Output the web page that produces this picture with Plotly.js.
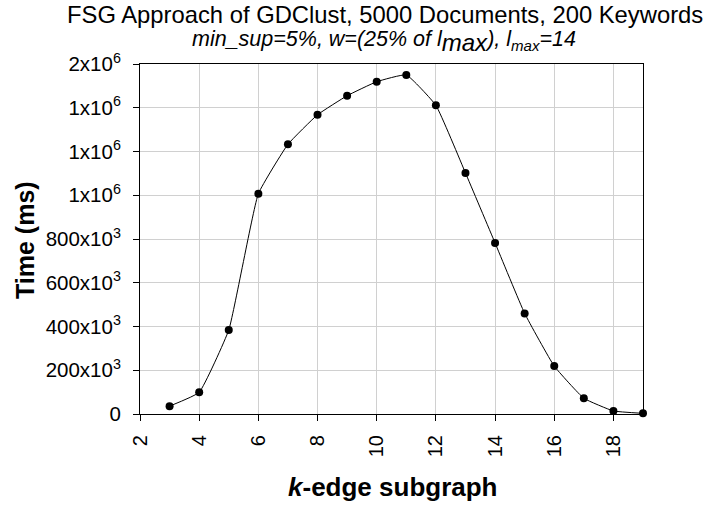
<!DOCTYPE html>
<html>
<head>
<meta charset="utf-8">
<script src="https://cdn.plot.ly/plotly-3.0.1.min.js"></script>
<style>html,body{margin:0;padding:0;background:#fff;}#chart{width:710px;height:508px;}</style>
</head>
<body>
<div id="chart"></div>
<script>
const kEdges = [3,4,5,6,7,8,9,10,11,12,13,14,15,16,17,18,19];
const timeMs = [36000,99000,384000,1007000,1233000,1368000,1455000,1519000,1550000,1411000,1102000,782000,460000,219000,72000,14000,3000];
const yTickVals = [0,200000,400000,600000,800000,1000000,1200000,1400000,1600000];
const yTickText = ['0','200x10<sup>3</sup>','400x10<sup>3</sup>','600x10<sup>3</sup>','800x10<sup>3</sup>','1x10<sup>6</sup>','1x10<sup>6</sup>','1x10<sup>6</sup>','2x10<sup>6</sup>'];
const xTickVals = [2,4,6,8,10,12,14,16,18];

const font = 'Liberation Sans, Arial, sans-serif';
const trace = {
  x: kEdges, y: timeMs, type: 'scatter', mode: 'lines+markers',
  line: {color: '#000', width: 1, shape: 'spline', smoothing: 0.35},
  marker: {color: '#000', size: 8},
  cliponaxis: false
};
const H = 350; // plot height px
function py(pix) { return (414 - pix) / H; }
function px(pix) { return (pix - 140) / 503; }
const layout = {
  width: 710, height: 508,
  margin: {l: 140, r: 67, t: 64, b: 94},
  paper_bgcolor: '#fff', plot_bgcolor: '#fff',
  font: {family: font, color: '#000', size: 20},
  showlegend: false,
  xaxis: {
    range: [2, 19], tickvals: xTickVals, ticktext: xTickVals.map(String),
    tickangle: -90, ticks: 'outside', ticklen: 6, tickcolor: '#000',
    ticklabelstandoff: 6,
    showline: true, linecolor: '#000', linewidth: 1, mirror: true,
    showgrid: true, gridcolor: '#d0d0d0', gridwidth: 1, zeroline: false,
    tickfont: {family: font, size: 20, color: '#000'}
  },
  yaxis: {
    range: [0, 1600000], tickvals: yTickVals, ticktext: yTickText,
    ticks: 'outside', ticklen: 6, tickcolor: '#000',
    ticklabelstandoff: 8,
    showline: true, linecolor: '#000', linewidth: 1, mirror: true,
    showgrid: true, gridcolor: '#d0d0d0', gridwidth: 1, zeroline: false,
    tickfont: {family: font, size: 20.5, color: '#000'}
  },
  annotations: [
    {text: 'FSG Approach of GDClust, 5000 Documents, 200 Keywords', xref: 'paper', yref: 'paper',
     x: px(385), y: py(14), xanchor: 'center', yanchor: 'middle', showarrow: false,
     font: {family: font, size: 23.8, color: '#000'}},
    {text: '<i>min_sup=5%, w=(25% of l<sub><span style="font-size:24px">max</span></sub>), l<sub>max</sub>=14</i>', xref: 'paper', yref: 'paper',
     x: px(384), y: py(41), xanchor: 'center', yanchor: 'middle', showarrow: false,
     font: {family: font, size: 21.5, color: '#000'}},
    {text: '<b><i>k</i>-edge subgraph</b>', xref: 'paper', yref: 'paper',
     x: px(392), y: py(487), xanchor: 'center', yanchor: 'middle', showarrow: false,
     font: {family: font, size: 26, color: '#000'}},
    {text: '<b>Time (ms)</b>', xref: 'paper', yref: 'paper', textangle: -90,
     x: px(25), y: py(240), xanchor: 'center', yanchor: 'middle', showarrow: false,
     font: {family: font, size: 25, color: '#000'}}
  ]
};
Plotly.newPlot('chart', [trace], layout, {staticPlot: true, displayModeBar: false});
</script>
</body>
</html>
